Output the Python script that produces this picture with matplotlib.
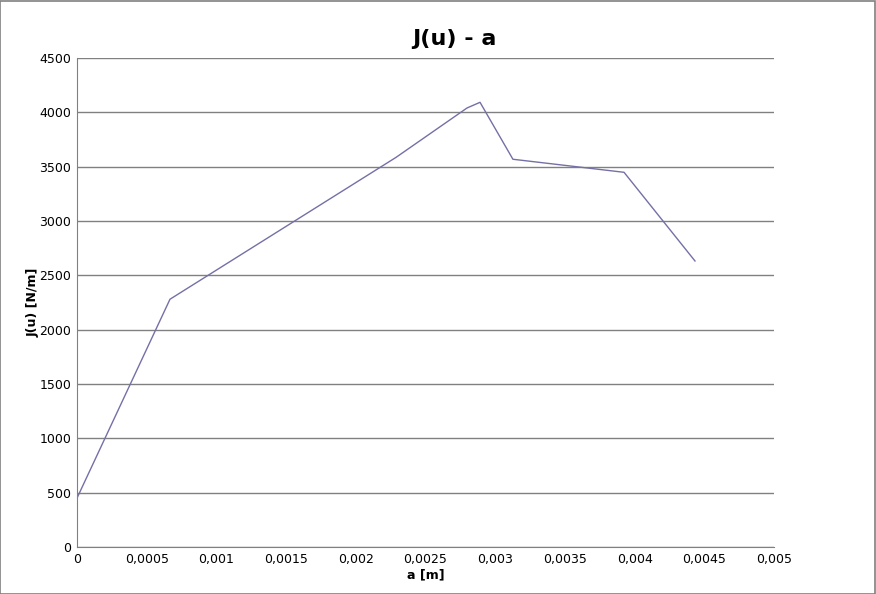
import matplotlib
matplotlib.use("Agg")
import matplotlib.pyplot as plt
from matplotlib.ticker import FuncFormatter

# dane
a = [0.0, 0.000667, 0.002288, 0.002798, 0.002891, 0.003127, 0.003924, 0.004433]
J = [450, 2280, 3585, 4040, 4092, 3568, 3448, 2632]

xticks = [0, 0.0005, 0.001, 0.0015, 0.002, 0.0025, 0.003, 0.0035, 0.004, 0.0045, 0.005]
yticks = list(range(0, 4501, 500))

def comma(v, pos):
    s = ("%.4f" % v).rstrip("0").rstrip(".")
    return s.replace(".", ",")

fig = plt.figure(figsize=(8.76, 5.94), dpi=100)
fig.patches.append(plt.Rectangle((0.0005, 0.0008), 0.998, 0.998, transform=fig.transFigure,
                                 fill=False, edgecolor="#808080", linewidth=1.2))
ax = fig.add_axes([0.0879, 0.0791, 0.7957, 0.8233])

ax.plot(a, J, color="#7470a6", linewidth=1.0)

ax.set_xlim(0, 0.005)
ax.set_ylim(0, 4500)
ax.set_xticks(xticks)
ax.set_yticks(yticks)
ax.xaxis.set_major_formatter(FuncFormatter(comma))
ax.yaxis.grid(True, color="#808080", linewidth=1.0)
ax.set_axisbelow(True)
ax.tick_params(length=0, labelsize=9, pad=4)
for s in ["top", "right"]:
    ax.spines[s].set_visible(False)
for s in ["left", "bottom"]:
    ax.spines[s].set_color("#808080")

fig.text(0.519, 0.934, "J(u) - a", fontsize=16, fontweight="bold", ha="center", va="center")
ax.set_xlabel("a [m]", fontsize=9, fontweight="bold", labelpad=2)
ax.set_ylabel("J(u) [N/m]", fontsize=9, fontweight="bold")
ax.yaxis.set_label_coords(-0.054, 0.5)

fig.savefig("out.png", dpi=100)
